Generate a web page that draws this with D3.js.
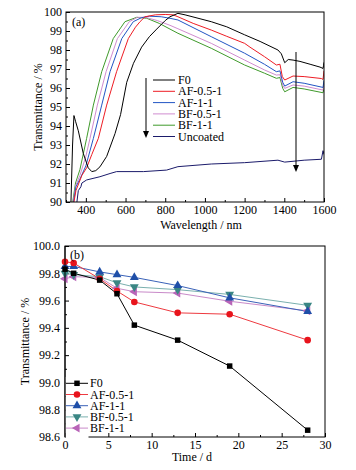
<!DOCTYPE html>
<html><head><meta charset="utf-8">
<script src="https://cdn.jsdelivr.net/npm/d3@7"></script>
<style>
html,body{margin:0;padding:0;background:#fff;}
svg{display:block;}
svg text{font-family:"Liberation Serif","Times New Roman",serif;}
</style></head>
<body><svg id="c" width="356" height="470"></svg>
<script>
// ---------- Panel (a): transmittance spectra ----------
const specNames = ["F0","AF-0.5-1","AF-1-1","BF-0.5-1","BF-1-1","Uncoated"];
const specColors = ["#000000","#ee1c24","#2255c4","#d08cd0","#3f9a2b","#1b1b6b"];
const specF0 = [[325,90],[333,93.0],[340,94.55],[348,94.25],[362,93.75],[387,92.56],[412,91.8],[430,91.6],[450,91.65],[471,91.85],[505,92.4],[547,93.6],[575,94.6],[606,96.3],[640,97.3],[681,98.15],[720,98.7],[757,99.1],[800,99.55],[824,99.75],[864,99.93],[900,99.85],[1032,99.49],[1110,99.22],[1200,98.8],[1278,98.45],[1368,98.0],[1385,97.8],[1402,97.33],[1420,97.5],[1444,97.47],[1479,97.4],[1530,97.25],[1580,97.1],[1595,97.03],[1598,97.2],[1600,97.35]];
const specAF05 = [[340,90],[350,90.6],[365,91.0],[380,91.4],[404,91.8],[430,92.5],[463,93.35],[505,95.1],[555,96.86],[614,98.6],[650,99.2],[673,99.49],[698,99.75],[750,99.85],[800,99.87],[840,99.85],[864,99.75],[941,99.4],[1032,99.05],[1110,98.72],[1200,98.35],[1227,98.15],[1300,97.65],[1360,97.21],[1378,97.25],[1390,96.6],[1402,96.42],[1444,96.63],[1500,96.6],[1587,96.5],[1595,96.45],[1600,96.9]];
const specAF11 = [[338,90],[350,90.8],[370,91.2],[400,91.9],[438,93.35],[480,95.1],[522,96.86],[581,98.6],[639,99.49],[680,99.7],[720,99.78],[780,99.75],[824,99.67],[864,99.58],[1032,98.7],[1200,97.83],[1300,97.25],[1360,96.86],[1378,96.9],[1392,96.3],[1402,96.1],[1444,96.33],[1500,96.25],[1595,96.03],[1600,96.4]];
const specBF05 = [[336,90],[350,90.9],[370,91.4],[400,92.4],[421,93.35],[458,95.1],[502,96.86],[559,98.6],[619,99.49],[660,99.72],[700,99.72],[760,99.55],[824,99.3],[864,99.12],[1032,98.35],[1200,97.47],[1300,96.95],[1360,96.68],[1378,96.7],[1392,96.15],[1402,95.98],[1444,96.16],[1500,96.1],[1595,95.89],[1600,96.2]];
const specBF11 = [[334,90],[348,91.0],[370,91.7],[404,93.35],[438,95.1],[480,96.86],[538,98.6],[597,99.49],[656,99.72],[707,99.67],[770,99.4],[824,99.1],[864,98.88],[1032,98.09],[1200,97.21],[1300,96.78],[1360,96.51],[1378,96.55],[1392,95.98],[1402,95.8],[1444,96.03],[1500,95.95],[1595,95.75],[1600,96.0]];
const specUncoated = [[355,90],[362,90.6],[375,90.8],[380,91.0],[404,91.16],[471,91.33],[522,91.5],[555,91.6],[690,91.6],[807,91.68],[864,91.86],[1032,92.0],[1200,92.07],[1368,92.2],[1402,92.1],[1500,92.2],[1587,92.25],[1595,92.7],[1600,92.5]];
const specSeries = [specF0,specAF05,specAF11,specBF05,specBF11,specUncoated];
const aXTicks = [400,600,800,1000,1200,1400,1600];
const aYTicks = [90,91,92,93,94,95,96,97,98,99,100];

// ---------- Panel (b): transmittance vs time ----------
const days = [0,1,4,6,8,13,19,28];
const timeNames = ["F0","AF-0.5-1","AF-1-1","BF-0.5-1","BF-1-1"];
const tF0   = [99.83,99.80,99.75,99.65,99.42,99.31,99.12,98.65];
const tAF05 = [99.885,99.875,99.76,99.67,99.59,99.51,99.50,99.31];
const tAF11 = [99.85,99.85,99.81,99.79,99.77,99.71,99.62,99.52];
const tBF05 = [99.80,99.79,99.775,99.73,99.70,99.68,99.645,99.565];
const tBF11 = [99.76,99.775,99.77,99.69,99.665,99.655,99.595,99.525];
const timeSeries = [tF0,tAF05,tAF11,tBF05,tBF11];
const timeColors = ["#000000","#e8141c","#1f4fa8","#3a8684","#b865b8"];
const timeLineColors = ["#000000","#ee3a40","#3a62b8","#7ab0ae","#c98ac9"];
const timeMarkers = ["square","circle","up","down","left"];
const bXTicks = [0,5,10,15,20,25,30];
const bYTicks = [98.6,98.8,99.0,99.2,99.4,99.6,99.8,100.0];

const svg = d3.select("#c");
svg.append("rect").attr("width",356).attr("height",470).attr("fill","#fff");
const FS = 12;
const FF = "'Liberation Serif','Times New Roman',serif";

function frame(g, x, y, xt, yt, xMinor, yMinor, xfmt, yfmt, ypad){
  const [x0,x1] = x.range(), [y1,y0] = y.range();
  const axB = g.append("g").attr("transform",`translate(0,${y1})`)
    .call(d3.axisBottom(x).tickValues(xt).tickSize(-4).tickPadding(3).tickFormat(xfmt));
  const axm = g.append("g").attr("transform",`translate(0,${y1})`)
    .call(d3.axisBottom(x).tickValues(xMinor).tickSize(-2).tickFormat(""));
  const ayL = g.append("g").attr("transform",`translate(${x0},0)`)
    .call(d3.axisLeft(y).tickValues(yt).tickSize(-4).tickPadding(ypad).tickFormat(yfmt));
  const aym = g.append("g").attr("transform",`translate(${x0},0)`)
    .call(d3.axisLeft(y).tickValues(yMinor).tickSize(-2).tickFormat(""));
  [axB,axm,ayL,aym].forEach(a=>{
    a.attr("font-family",FF).attr("font-size",FS);
    a.select(".domain").remove();
    a.selectAll("line").attr("stroke","#000").attr("stroke-width",1);
    a.selectAll("text").attr("font-size",FS).attr("fill","#000").attr("font-family",FF);
  });
  g.append("rect").attr("x",x0).attr("y",y0).attr("width",x1-x0).attr("height",y1-y0)
    .attr("fill","none").attr("stroke","#000").attr("stroke-width",1);
}
function txt(g,x,y,s,anchor){
  return g.append("text").attr("x",x).attr("y",y).attr("font-size",FS).attr("font-family",FF)
    .attr("text-anchor",anchor||"start").attr("fill","#000").text(s);
}

// ---- Panel (a)
const ax = d3.scaleLinear().domain([300,1600]).range([66,324]);
const ay = d3.scaleLinear().domain([90,100]).range([202,12]);
const ga = svg.append("g");
svg.append("clipPath").attr("id","clipA").append("rect").attr("x",66).attr("y",12).attr("width",258).attr("height",190);
const line = d3.line().x(d=>ax(d[0])).y(d=>ay(d[1]));
const curves = ga.append("g").attr("clip-path","url(#clipA)");
for (let i=specSeries.length-1;i>=0;i--){
  curves.append("path").datum(specSeries[i]).attr("d",line)
    .attr("fill","none").attr("stroke",specColors[i]).attr("stroke-width",1);
}
frame(ga, ax, ay, aXTicks, aYTicks,
  d3.range(300,1601,100).filter(v=>!aXTicks.includes(v)),
  d3.range(90,100.01,0.5).filter(v=>Math.abs(v-Math.round(v))>0.1),
  d3.format("d"), d3.format("d"), 4);
txt(ga,72,26,"(a)");
txt(ga,201,229,"Wavelength / nm","middle");
txt(ga,0,0,"Transmittance / %","middle").attr("transform",`translate(42,${ay(95)}) rotate(-90)`);
// legend (a)
specNames.forEach((n,i)=>{
  const yy = 80 + i*11.3;
  ga.append("line").attr("x1",153).attr("x2",175).attr("y1",yy).attr("y2",yy).attr("stroke",specColors[i]).attr("stroke-width",1);
  txt(ga,178,yy+4,n);
});
function arrow(g,x,yTop,yTip){
  g.append("line").attr("x1",x).attr("x2",x).attr("y1",yTop).attr("y2",yTip-5).attr("stroke","#000").attr("stroke-width",1);
  g.append("path").attr("d",`M${x-3},${yTip-7}L${x+3},${yTip-7}L${x},${yTip}Z`).attr("fill","#000");
}
arrow(ga,146,78,138);
arrow(ga,296,52,172);

// ---- Panel (b)
const bx = d3.scaleLinear().domain([0,30]).range([65,325]);
const by = d3.scaleLinear().domain([98.6,100]).range([437,246]);
const gb = svg.append("g");
const lineB = d3.line().x((d,i)=>bx(days[i])).y(d=>by(d));
const sym = {
  square: d3.symbol().type(d3.symbolSquare).size(30),
  circle: d3.symbol().type(d3.symbolCircle).size(34),
  up: d3.symbol().type(d3.symbolTriangle).size(34),
  down: d3.symbol().type(d3.symbolTriangle).size(34),
  left: d3.symbol().type(d3.symbolTriangle).size(34)
};
const rot = {square:0,circle:0,up:0,down:180,left:-90};
frame(gb, bx, by, bXTicks, bYTicks,
  d3.range(2.5,30,5),
  d3.range(98.7,100,0.2),
  d3.format("d"), d3.format(".1f"), 5);
for (let i=timeSeries.length-1;i>=0;i--){
  gb.append("path").datum(timeSeries[i]).attr("d",lineB).attr("fill","none")
    .attr("stroke",timeLineColors[i]).attr("stroke-width",1);
}
for (let i=timeSeries.length-1;i>=0;i--){
  const m = timeMarkers[i];
  gb.selectAll(null).data(timeSeries[i]).enter().append("path")
    .attr("d",sym[m]())
    .attr("transform",(d,j)=>`translate(${bx(days[j])},${by(d)}) rotate(${rot[m]})`)
    .attr("fill",timeColors[i]);
}
txt(gb,70,259,"(b)");
txt(gb,192,461,"Time / d","middle");
txt(gb,0,0,"Transmittance / %","middle").attr("transform",`translate(29,${by(99.3)}) rotate(-90)`);
// legend (b)
gb.append("rect").attr("x",65.5).attr("y",377).attr("width",23).attr("height",61).attr("fill","#fff");
timeNames.forEach((n,i)=>{
  const yy = 383.3 + i*11.2;
  gb.append("line").attr("x1",66).attr("x2",88).attr("y1",yy).attr("y2",yy).attr("stroke",timeLineColors[i]).attr("stroke-width",1);
  const m = timeMarkers[i];
  gb.append("path").attr("d",sym[m]()).attr("transform",`translate(77,${yy}) rotate(${rot[m]})`).attr("fill",timeColors[i]);
  txt(gb,90,yy+4,n);
});
gb.append("line").attr("x1",65).attr("x2",65).attr("y1",246).attr("y2",437).attr("stroke","#000");
</script></body></html>
